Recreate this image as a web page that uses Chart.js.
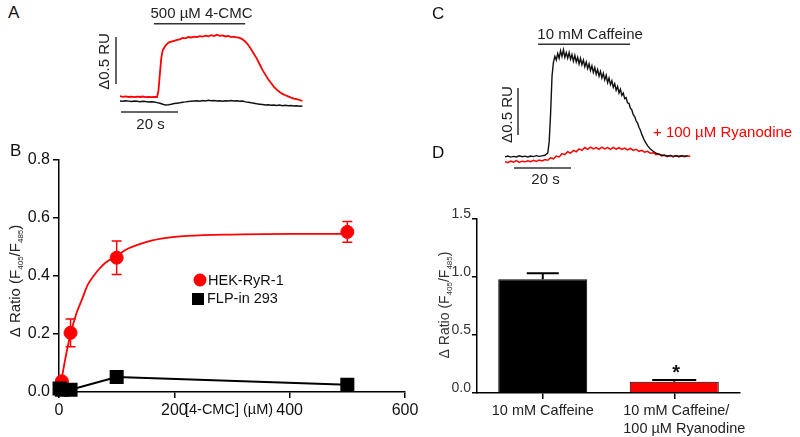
<!DOCTYPE html>
<html><head><meta charset="utf-8">
<script src="https://cdn.jsdelivr.net/npm/chart.js@4.4.1/dist/chart.umd.min.js"></script>
<style>
html,body{margin:0;padding:0;background:#fff;width:800px;height:437px;overflow:hidden;position:relative;}
canvas{position:absolute;}
.lbl{position:absolute;font-family:"Liberation Sans",Arial,Helvetica,sans-serif;font-size:17px;color:#111;line-height:1;}
</style></head><body>
<canvas id="cA" width="240" height="140" style="left:80px;top:0px"></canvas>
<canvas id="cB" width="420" height="297" style="left:0px;top:140px"></canvas>
<canvas id="cC" width="380" height="190" style="left:420px;top:0px"></canvas>
<canvas id="cD" width="380" height="247" style="left:420px;top:190px"></canvas>
<div class="lbl" style="left:8px;top:4px">A</div>
<div class="lbl" style="left:10px;top:142px">B</div>
<div class="lbl" style="left:432px;top:5px">C</div>
<div class="lbl" style="left:432px;top:144px">D</div>
<script>
// ---------- Panel A : 500 µM 4-CMC traces (time in s, signal in RU) ----------
const timeRedA = [0,1,2,3,4,5,6,7,8,9,10,11,12,13,13.5,14,14.5,15,16,17,18,19,20,21,22,23,24,25,26,27,28,29,30,31,32,33,34,35,36,37,38,39,40,41,42,43,44,45,46,47,48,49,50,51,52,53,54,55,56,57,58,59,60,61,62,63,64];
const redA = [0.040,0.034,0.038,0.032,0.036,0.030,0.035,0.032,0.037,0.031,0.034,0.030,0.033,0.032,0.10,0.28,0.45,0.53,0.58,0.61,0.62,0.63,0.64,0.645,0.66,0.655,0.67,0.665,0.675,0.67,0.68,0.675,0.685,0.678,0.69,0.68,0.695,0.682,0.688,0.676,0.682,0.67,0.675,0.665,0.66,0.645,0.62,0.585,0.54,0.49,0.44,0.38,0.32,0.27,0.22,0.18,0.14,0.11,0.085,0.065,0.05,0.038,0.025,0.015,0.008,0.0,-0.01];
const timeBlackA = [0,1,2,3,4,5,6,7,8,9,10,11,12,13,14,15,16,17,18,19,20,21,22,23,24,25,26,27,28,29,30,31,32,33,34,35,36,37,38,39,40,41,42,43,44,45,46,47,48,49,50,51,52,53,54,55,56,57,58,59,60,61,62,63,64];
const blackA = [-0.010,-0.014,-0.008,-0.012,-0.016,-0.010,-0.014,-0.018,-0.013,-0.017,-0.020,-0.018,-0.022,-0.028,-0.035,-0.045,-0.052,-0.050,-0.045,-0.038,-0.034,-0.030,-0.024,-0.020,-0.015,-0.012,-0.010,-0.008,-0.012,-0.006,-0.010,-0.004,-0.009,-0.006,-0.011,-0.007,-0.012,-0.008,-0.010,-0.006,-0.011,-0.009,-0.014,-0.012,-0.020,-0.025,-0.030,-0.034,-0.040,-0.044,-0.048,-0.052,-0.050,-0.055,-0.053,-0.058,-0.054,-0.060,-0.056,-0.062,-0.058,-0.064,-0.060,-0.066,-0.063];
const stimA = [11.9, 43.9], stimLevelA = 0.81, stimLabelA = '500 µM 4-CMC';
const vBarA = {t: -1.4, ru: [0.17, 0.67]}, hBarA = {ru: -0.128, t: [0.35, 20.35]};

// ---------- Panel C : 10 mM caffeine traces ----------
const timeBlackC = [0,1,2,3,4,5,6,7,8,9,10,11,12,13,14,15,15.5,16,16.5,
  17,17.5,18,18.5,19,19.5,20,20.5,21,21.5,22,22.5,23,23.5,24,24.5,25,25.5,26,26.5,27,27.5,28,28.5,29,29.5,30,30.5,31,31.5,32,32.5,
  33,33.5,34,34.5,35,35.5,36,36.5,37,37.5,38,38.5,39,39.5,40,40.5,41,41.5,42,42.5,43,43.5,44,44.5,45,45.5,46,46.5,47,47.5,48,
  49,50,51,52,53,54,55,56,57,58,59,60,61,62,63,64];
const blackC = [-0.01,0.0,-0.012,-0.004,-0.01,0.002,-0.008,-0.002,-0.01,0.0,-0.006,0.004,-0.004,0.002,0.008,0.03,0.15,0.45,0.85,
  1.00,1.06,1.02,1.09,1.04,1.12,1.06,1.13,1.05,1.10,1.04,1.10,1.03,1.08,1.01,1.07,1.00,1.05,0.98,1.04,0.97,1.02,0.95,1.00,0.93,0.98,0.91,0.96,0.89,0.94,0.87,0.92,
  0.85,0.90,0.83,0.88,0.81,0.86,0.78,0.83,0.76,0.80,0.73,0.77,0.70,0.74,0.67,0.71,0.645,0.67,0.61,0.62,0.565,0.56,0.51,0.49,0.44,0.42,0.375,0.35,0.305,0.275,0.23,
  0.16,0.11,0.075,0.05,0.03,0.02,0.01,0.005,0.0,0.004,-0.004,0.002,-0.002,0.003,-0.003,0.0];
const timeRedC = [0,1,2,3,4,5,6,7,8,9,10,11,12,13,14,15,16,17,18,19,20,21,22,23,24,25,26,27,28,29,30,31,32,33,34,35,36,37,38,39,40,41,42,43,44,45,46,47,48,49,50,51,52,53,54,55,56,57,58,59,60,61,62,63,64,65];
const redC = [-0.06,-0.07,-0.055,-0.065,-0.05,-0.068,-0.055,-0.062,-0.05,-0.06,-0.045,-0.058,-0.042,-0.052,-0.038,-0.045,-0.02,-0.03,0.0,-0.01,0.025,0.015,0.045,0.03,0.06,0.045,0.075,0.06,0.09,0.07,0.095,0.075,0.09,0.07,0.095,0.075,0.09,0.07,0.092,0.072,0.088,0.07,0.085,0.065,0.08,0.06,0.072,0.05,0.06,0.04,0.05,0.03,0.035,0.015,0.02,0.0,0.01,-0.008,0.006,-0.01,0.004,-0.01,0.003,-0.008,0.002,-0.005];
const stimC = [11.6, 43.9], stimLevelC = 1.19, stimLabelC = '10 mM Caffeine';
const vBarC = {t: 4.56, ru: [0.223, 0.723]}, hBarC = {ru: -0.128, t: [3.16, 23.16]};
const ryanLabel = '+ 100 µM Ryanodine';

// ---------- Panel B : concentration response ----------
const concRed = [5, 20, 100, 500];
const ratioRed = [0.037, 0.204, 0.463, 0.552];
const errRed = [0.0, 0.048, 0.058, 0.036];
const concBlack = [1, 5, 20, 100, 500];
const ratioBlack = [0.012, 0.008, 0.008, 0.052, 0.025];
const fitConc = [0,5,10,15,20,30,40,50,60,70,80,100,120,140,160,180,200,250,300,400,500];
const fitRatio = [0,0.05,0.105,0.155,0.2,0.27,0.32,0.37,0.40,0.425,0.445,0.47,0.495,0.51,0.522,0.53,0.535,0.541,0.543,0.545,0.545];
const xTicksB = [0, 200, 400, 600];
const seriesNamesB = ['HEK-RyR-1', 'FLP-in 293'];

// ---------- Panel D : bar chart ----------
const catD = [['10 mM Caffeine'], ['10 mM Caffeine/', '100 µM Ryanodine']];
const valD = [0.98, 0.097];
const errD = [0.052, 0.015];

const FONT = '"Liberation Sans", Arial, Helvetica, sans-serif';
Chart.defaults.font.family = FONT;
Chart.defaults.color = '#111';
const RED = '#ff0000', INK = '#222';

function pts(xs, ys) { return xs.map((x, i) => ({x: x, y: ys[i]})); }
function seg(x0, y0, x1, y1) { return [{x: x0, y: y0}, {x: x1, y: y1}]; }
function lineDs(data, color, w) { return {data: data, borderColor: color, borderWidth: w, pointRadius: 0, fill: false, tension: 0}; }

function rotText(ctx, txt, x, y, font, color) {
  ctx.save(); ctx.translate(x, y); ctx.rotate(-Math.PI / 2);
  ctx.font = font; ctx.fillStyle = color; ctx.textAlign = 'center'; ctx.textBaseline = 'middle';
  ctx.fillText(txt, 0, 0); ctx.restore();
}
function richRot(ctx, parts, x, y, size, color) {
  ctx.save(); ctx.translate(x, y); ctx.rotate(-Math.PI / 2);
  ctx.fillStyle = color; ctx.textBaseline = 'alphabetic'; ctx.textAlign = 'left';
  const subSize = Math.round(size * 0.55);
  let total = 0;
  parts.forEach(p => { ctx.font = (p.sub ? subSize : size) + 'px ' + FONT; total += ctx.measureText(p.t).width; });
  let cx = -total / 2; const base = size * 0.36;
  parts.forEach(p => {
    ctx.font = (p.sub ? subSize : size) + 'px ' + FONT;
    ctx.fillText(p.t, cx, base + (p.sub ? size * 0.2 : 0));
    cx += ctx.measureText(p.t).width;
  });
  ctx.restore();
}
const ratioTitle = [{t: 'Δ Ratio (F'}, {t: '405', sub: true}, {t: '/F'}, {t: '485', sub: true}, {t: ')'}];

function traceChart(id, ox, oy, pxS, pxRU, datasets, draw) {
  const cv = document.getElementById(id);
  const W = cv.width, H = cv.height;
  return new Chart(cv, {
    type: 'line',
    data: {datasets: datasets},
    options: {
      responsive: false, animation: false, devicePixelRatio: 1,
      layout: {padding: 0},
      plugins: {legend: {display: false}, tooltip: {enabled: false}},
      scales: {
        x: {type: 'linear', display: false, min: -ox / pxS, max: (W - ox) / pxS},
        y: {type: 'linear', display: false, min: -(H - oy) / pxRU, max: oy / pxRU}
      }
    },
    plugins: [{id: 'ann' + id, afterDatasetsDraw: draw}]
  });
}

// Panel A chart
traceChart('cA', 40, 100, 2.85, 94, [
  lineDs(pts(timeRedA, redA), RED, 1.8),
  lineDs(pts(timeBlackA, blackA), '#111', 1.5),
  lineDs(seg(stimA[0], stimLevelA, stimA[1], stimLevelA), '#333', 1.5),
  lineDs(seg(vBarA.t, vBarA.ru[0], vBarA.t, vBarA.ru[1]), '#333', 1.5),
  lineDs(seg(hBarA.t[0], hBarA.ru, hBarA.t[1], hBarA.ru), '#333', 1.5)
], function (chart) {
  const ctx = chart.ctx, xs = chart.scales.x, ys = chart.scales.y;
  ctx.save(); ctx.font = '15px ' + FONT; ctx.fillStyle = INK; ctx.textAlign = 'center'; ctx.textBaseline = 'middle';
  ctx.fillText(stimLabelA, (xs.getPixelForValue(stimA[0]) + xs.getPixelForValue(stimA[1])) / 2 + 2, ys.getPixelForValue(stimLevelA) - 10);
  ctx.fillText('20 s', (xs.getPixelForValue(hBarA.t[0]) + xs.getPixelForValue(hBarA.t[1])) / 2 + 1, ys.getPixelForValue(hBarA.ru) + 13);
  ctx.restore();
  rotText(ctx, 'Δ0.5 RU', xs.getPixelForValue(vBarA.t) - 11, (ys.getPixelForValue(vBarA.ru[0]) + ys.getPixelForValue(vBarA.ru[1])) / 2 + 1, '15px ' + FONT, INK);
});

// Panel C chart
traceChart('cC', 85, 156, 2.85, 94, [
  lineDs(pts(timeBlackC, blackC), '#111', 1.4),
  lineDs(pts(timeRedC, redC), RED, 1.5),
  lineDs(seg(stimC[0], stimLevelC, stimC[1], stimLevelC), '#333', 1.5),
  lineDs(seg(vBarC.t, vBarC.ru[0], vBarC.t, vBarC.ru[1]), '#333', 1.5),
  lineDs(seg(hBarC.t[0], hBarC.ru, hBarC.t[1], hBarC.ru), '#333', 1.5)
], function (chart) {
  const ctx = chart.ctx, xs = chart.scales.x, ys = chart.scales.y;
  ctx.save(); ctx.font = '15px ' + FONT; ctx.fillStyle = INK; ctx.textAlign = 'center'; ctx.textBaseline = 'middle';
  ctx.fillText(stimLabelC, (xs.getPixelForValue(stimC[0]) + xs.getPixelForValue(stimC[1])) / 2 + 6, ys.getPixelForValue(stimLevelC) - 9);
  ctx.fillText('20 s', (xs.getPixelForValue(hBarC.t[0]) + xs.getPixelForValue(hBarC.t[1])) / 2 + 3, ys.getPixelForValue(hBarC.ru) + 12);
  ctx.fillStyle = RED; ctx.textAlign = 'left';
  ctx.fillText(ryanLabel, 233, 133);
  ctx.restore();
  rotText(ctx, 'Δ0.5 RU', xs.getPixelForValue(vBarC.t) - 10, (ys.getPixelForValue(vBarC.ru[0]) + ys.getPixelForValue(vBarC.ru[1])) / 2 + 3, '15px ' + FONT, INK);
});

// Panel B chart
const axisGrid = {drawOnChartArea: false, drawTicks: true, tickLength: 6, color: '#000', lineWidth: 1.5};
new Chart(document.getElementById('cB'), {
  type: 'scatter',
  data: {datasets: [
    {data: pts(concBlack, ratioBlack), showLine: true, borderColor: '#000', backgroundColor: '#000', borderWidth: 2, pointStyle: 'rect', pointRadius: 8.5, clip: false},
    {data: pts(concRed, ratioRed), showLine: false, borderColor: RED, backgroundColor: RED, pointStyle: 'circle', pointRadius: 6.5, clip: false},
    {data: pts(fitConc, fitRatio), showLine: true, borderColor: RED, borderWidth: 1.8, pointRadius: 0, cubicInterpolationMode: 'monotone', clip: false}
  ]},
  options: {
    responsive: false, animation: false, devicePixelRatio: 1,
    layout: {padding: {left: 0, top: 20, right: 15, bottom: 0}},
    plugins: {legend: {display: false}, tooltip: {enabled: false}},
    scales: {
      x: {type: 'linear', min: 0, max: 600,
          afterBuildTicks: s => { s.ticks = xTicksB.map(v => ({value: v})); },
          ticks: {color: '#111', font: {size: 16}, padding: 3, maxRotation: 0},
          grid: axisGrid, border: {color: '#000', width: 1.5},
          afterFit: s => { s.height = 45; s.paddingLeft = 0; s.paddingRight = 0; }},
      y: {type: 'linear', min: 0, max: 0.8,
          ticks: {stepSize: 0.2, color: '#111', font: {size: 16}, padding: 3, callback: v => v.toFixed(1)},
          grid: axisGrid, border: {color: '#000', width: 1.5},
          afterFit: s => { s.width = 59; s.paddingTop = 0; s.paddingBottom = 0; }}
    }
  },
  plugins: [{id: 'annB',
    beforeDatasetsDraw(chart) {
      const ctx = chart.ctx, xs = chart.scales.x, ys = chart.scales.y;
      ctx.save(); ctx.strokeStyle = RED; ctx.lineWidth = 1.5;
      concRed.forEach((c, i) => {
        if (!errRed[i]) return;
        const x = xs.getPixelForValue(c), yt = ys.getPixelForValue(ratioRed[i] + errRed[i]), yb = ys.getPixelForValue(ratioRed[i] - errRed[i]);
        ctx.beginPath(); ctx.moveTo(x, yt); ctx.lineTo(x, yb);
        ctx.moveTo(x - 5, yt); ctx.lineTo(x + 5, yt); ctx.moveTo(x - 5, yb); ctx.lineTo(x + 5, yb); ctx.stroke();
      });
      ctx.restore();
    },
    afterDatasetsDraw(chart) {
      const ctx = chart.ctx;
      ctx.save();
      ctx.fillStyle = RED; ctx.beginPath(); ctx.arc(200, 140, 6.5, 0, Math.PI * 2); ctx.fill();
      ctx.fillStyle = '#000'; ctx.fillRect(192, 153, 12, 12);
      ctx.font = '14.5px ' + FONT; ctx.fillStyle = '#111'; ctx.textAlign = 'left'; ctx.textBaseline = 'middle';
      ctx.fillText(seriesNamesB[0], 208, 141);
      ctx.fillText(seriesNamesB[1], 207, 159);
      ctx.textAlign = 'center';
      ctx.fillText('[4-CMC] (µM)', 229, 270);
      ctx.restore();
      richRot(ctx, ratioTitle, 15, 141, 15, '#222');
    }
  }]
});

// Panel D chart
new Chart(document.getElementById('cD'), {
  type: 'bar',
  data: {labels: catD, datasets: [{data: valD, backgroundColor: ['#000', RED], borderColor: '#000', borderWidth: 1, barPercentage: 0.677, categoryPercentage: 1}]},
  options: {
    responsive: false, animation: false, devicePixelRatio: 1,
    layout: {padding: {left: 0, top: 29, right: 60, bottom: 0}},
    plugins: {legend: {display: false}, tooltip: {enabled: false}},
    scales: {
      x: {ticks: {color: '#222', font: {size: 14.5, lineHeight: 1.25}, padding: 3, align: 'start', labelOffset: -51, maxRotation: 0, autoSkip: false},
          grid: {offset: false, drawOnChartArea: false, drawTicks: true, tickLength: 6, color: '#000', lineWidth: 1.5},
          border: {color: '#000', width: 1.5},
          afterFit: s => { s.height = 44; s.paddingLeft = 0; s.paddingRight = 0; }},
      y: {min: 0, max: 1.5,
          ticks: {stepSize: 0.5, color: '#333', font: {size: 14}, padding: 1, labelOffset: -5, callback: v => v.toFixed(1)},
          grid: {drawOnChartArea: false, drawTicks: true, tickLength: 5, color: '#000', lineWidth: 1.5},
          border: {color: '#000', width: 1.5},
          afterFit: s => { s.width = 57; s.paddingTop = 0; s.paddingBottom = 0; }}
    }
  },
  plugins: [{id: 'annD',
    afterDatasetsDraw(chart) {
      const ctx = chart.ctx, ys = chart.scales.y;
      const meta = chart.getDatasetMeta(0);
      const caps = [16, 22];
      ctx.save(); ctx.strokeStyle = '#000'; ctx.lineWidth = 2;
      valD.forEach((v, i) => {
        const x = meta.data[i].x, yt = ys.getPixelForValue(v + errD[i]), yv = ys.getPixelForValue(v);
        ctx.beginPath(); ctx.moveTo(x, yv); ctx.lineTo(x, yt); ctx.moveTo(x - caps[i], yt); ctx.lineTo(x + caps[i], yt); ctx.stroke();
      });
      const x2 = meta.data[1].x, yTop = ys.getPixelForValue(valD[1] + errD[1]);
      ctx.font = 'bold 20px ' + FONT; ctx.fillStyle = '#111'; ctx.textAlign = 'center'; ctx.textBaseline = 'alphabetic';
      ctx.fillText('*', x2 + 2, yTop - 1);
      ctx.restore();
      richRot(ctx, ratioTitle, 24, 115, 14, '#333');
    }
  }]
});
</script>
</body></html>
